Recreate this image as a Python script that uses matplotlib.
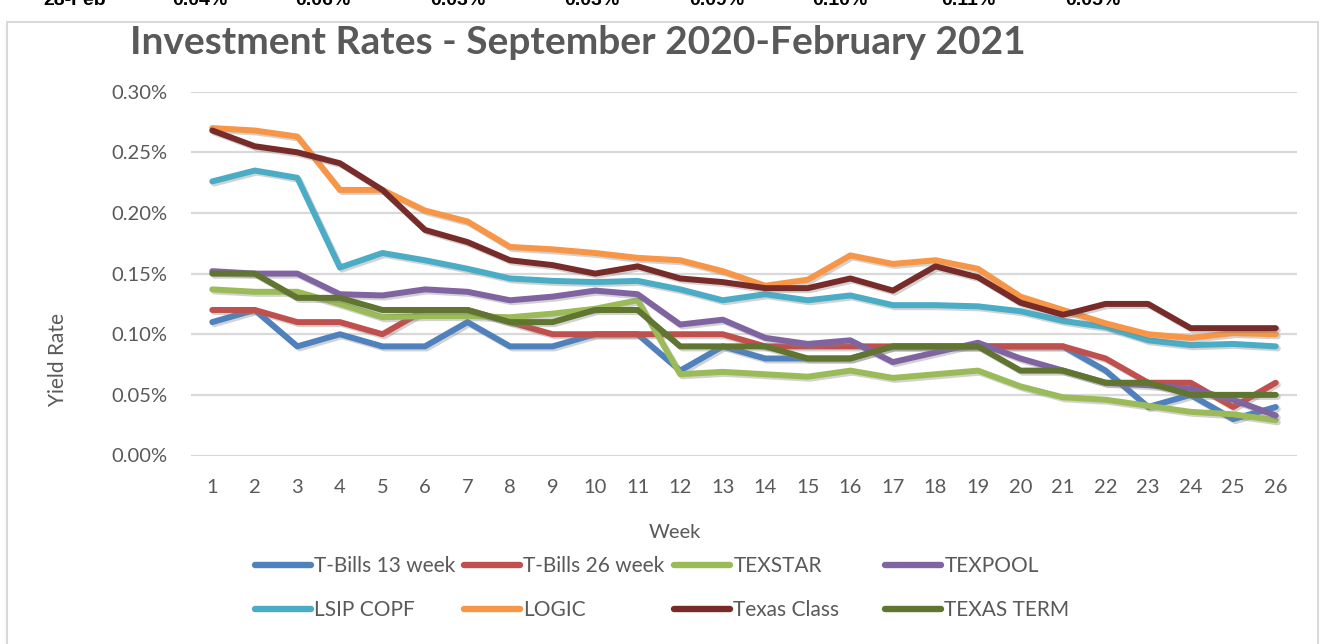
import matplotlib
matplotlib.use('Agg')
import matplotlib.pyplot as plt
import matplotlib.patheffects as pe
from matplotlib.patches import Rectangle
from matplotlib.lines import Line2D

# data (yield rates in percent)
weeks = list(range(1, 27))
series_names = ['T-Bills 13 week', 'T-Bills 26 week', 'TEXSTAR', 'TEXPOOL',
                'LSIP COPF', 'LOGIC', 'Texas Class', 'TEXAS TERM']

tbills13 = [0.11, 0.12, 0.09, 0.10, 0.09, 0.09, 0.11, 0.09, 0.09, 0.10, 0.10, 0.07, 0.09,
            0.08, 0.08, 0.08, 0.09, 0.09, 0.09, 0.09, 0.09, 0.07, 0.04, 0.05, 0.03, 0.04]
tbills26 = [0.12, 0.12, 0.11, 0.11, 0.10, 0.12, 0.12, 0.11, 0.10, 0.10, 0.10, 0.10, 0.10,
            0.09, 0.09, 0.09, 0.09, 0.09, 0.09, 0.09, 0.09, 0.08, 0.06, 0.06, 0.04, 0.06]
texstar = [0.137, 0.135, 0.135, 0.125, 0.114, 0.115, 0.115, 0.114, 0.117, 0.121, 0.128, 0.067, 0.069,
           0.067, 0.065, 0.070, 0.064, 0.067, 0.070, 0.057, 0.048, 0.046, 0.041, 0.036, 0.034, 0.029]
texpool = [0.152, 0.150, 0.150, 0.133, 0.132, 0.137, 0.135, 0.128, 0.131, 0.136, 0.133, 0.108, 0.112,
           0.097, 0.092, 0.095, 0.077, 0.085, 0.093, 0.080, 0.070, 0.060, 0.058, 0.055, 0.046, 0.033]
lsip = [0.226, 0.235, 0.229, 0.155, 0.167, 0.161, 0.154, 0.146, 0.144, 0.143, 0.144, 0.137, 0.128,
        0.133, 0.128, 0.132, 0.124, 0.124, 0.123, 0.119, 0.111, 0.106, 0.095, 0.091, 0.092, 0.090]
logic = [0.270, 0.268, 0.263, 0.219, 0.219, 0.202, 0.193, 0.172, 0.170, 0.167, 0.163, 0.161, 0.152,
         0.140, 0.145, 0.165, 0.158, 0.161, 0.154, 0.131, 0.120, 0.109, 0.100, 0.097, 0.101, 0.100]
texas_class = [0.268, 0.255, 0.250, 0.241, 0.219, 0.186, 0.176, 0.161, 0.157, 0.150, 0.156, 0.146, 0.143,
               0.138, 0.138, 0.146, 0.136, 0.156, 0.147, 0.126, 0.116, 0.125, 0.125, 0.105, 0.105, 0.105]
texas_term = [0.15, 0.15, 0.13, 0.13, 0.12, 0.12, 0.12, 0.11, 0.11, 0.12, 0.12, 0.09, 0.09,
              0.09, 0.08, 0.08, 0.09, 0.09, 0.09, 0.07, 0.07, 0.06, 0.06, 0.05, 0.05, 0.05]

# last row of the table above the chart (cut off at the top of the picture)
table_row = ['28-Feb', '0.04%', '0.06%', '0.03%', '0.03%', '0.09%', '0.10%', '0.11%', '0.05%']

yticks = [0.0, 0.05, 0.10, 0.15, 0.20, 0.25, 0.30]

colors = ['#4F81BD', '#C0504D', '#9BBB59', '#8064A2', '#4BACC6', '#F79646', '#772C2A', '#5F7530']
all_series = [tbills13, tbills26, texstar, texpool, lsip, logic, texas_class, texas_term]

plt.rcParams['font.family'] = ['Lato', 'DejaVu Sans']
W, H = 1324, 644
fig = plt.figure(figsize=(W / 100, H / 100), dpi=100)

def fx(px):
    return px / W

def fy(py):
    return 1 - py / H

# chart border
fig.patches.append(Rectangle((fx(7), fy(700)), fx(1311), (700 - 22) / H,
                             transform=fig.transFigure, fill=False,
                             edgecolor='#D9D9D9', linewidth=1.5))

ax = fig.add_axes([fx(191), fy(455.5), fx(1297 - 191), (455.5 - 91.7) / H])

shadow = [pe.SimpleLineShadow(offset=(1.5, -1.5), shadow_color='#808080', alpha=0.35),
          pe.Normal()]
for name, vals, c in zip(series_names, all_series, colors):
    ax.plot(weeks, vals, color=c, linewidth=4.3, solid_joinstyle='round',
            solid_capstyle='round', label=name, path_effects=shadow, zorder=3)

ax.set_xlim(0.5, 26.5)
ax.set_ylim(0, 0.30)
ax.set_yticks(yticks)
ax.set_yticklabels(['%.2f%%' % v for v in yticks])
ax.set_xticks(weeks)
ax.set_xticklabels([str(w) for w in weeks])
ax.grid(axis='y', color='#D9D9D9', linewidth=1.6)
ax.set_axisbelow(True)
for s in ax.spines.values():
    s.set_visible(False)
ax.tick_params(axis='both', length=0, labelsize=14.5, labelcolor='#595959')
ax.tick_params(axis='y', pad=17)
ax.tick_params(axis='x', pad=17)

fig.text(fx(578), fy(42), 'Investment Rates - September 2020-February 2021',
         fontsize=28, fontweight='bold', color='#595959', ha='center', va='center')
fig.text(fx(675), fy(533), 'Week', fontsize=14.5, color='#595959', ha='center', va='center')
fig.text(fx(58), fy(360), 'Yield Rate', fontsize=15, color='#595959', rotation=90,
         ha='center', va='center')

# legend: 4 columns x 2 rows, placed like the original
leg_x = [255, 464, 674, 885]
leg_y = [566, 610]
for i, (name, c) in enumerate(zip(series_names, colors)):
    h = Line2D([], [], color=c, linewidth=4.6, solid_capstyle='round')
    lg = fig.legend([h], [name], loc='center left',
                    bbox_to_anchor=(fx(leg_x[i % 4]), fy(leg_y[i // 4])),
                    frameon=False, fontsize=15, handlelength=2.7, handletextpad=0.15,
                    borderpad=0, borderaxespad=0)
    for t in lg.get_texts():
        t.set_color('#595959')

# table row cut off at the top
row_x = [75, 200, 323, 458, 592, 717, 840, 968, 1093]
for x, t in zip(row_x, table_row):
    fig.text(fx(x), fy(5), t, fontsize=14, fontweight='bold', color='black',
             ha='center', va='baseline', family=['Liberation Sans', 'DejaVu Sans'])

fig.savefig('out.png', dpi=100)
